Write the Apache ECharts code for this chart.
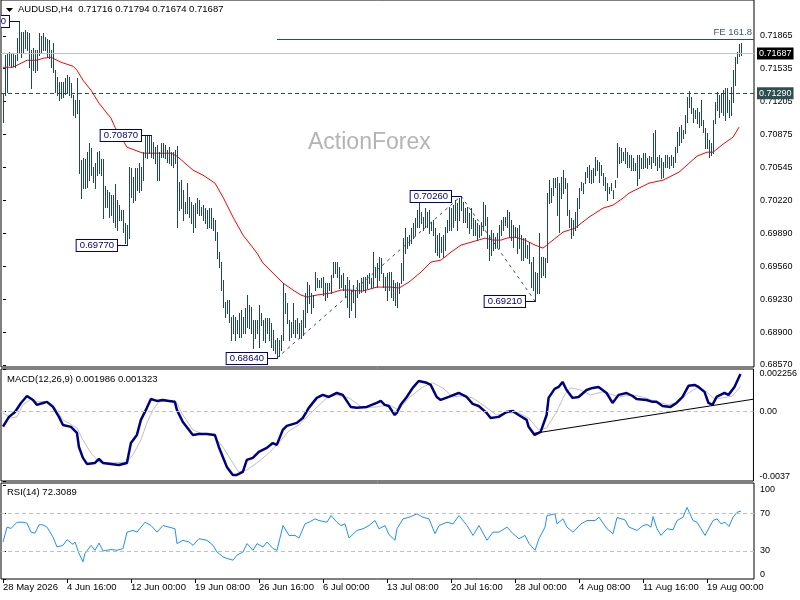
<!DOCTYPE html>
<html><head><meta charset="utf-8">
<script src="https://cdn.jsdelivr.net/npm/echarts@6/dist/echarts.min.js"></script>
<style>html,body{margin:0;padding:0;background:#fff}#c{width:800px;height:600px}</style>
</head><body><div id="c"></div>
<script>
const symbolName = 'AUDUSD,H4';
const lastOHLC = [0.71716, 0.71794, 0.71674, 0.71687];
const highs = [
0.7129,0.7167,0.7169,0.7170,0.7169,0.7169,0.7167,0.7184,0.7201,0.7190,
0.7190,0.7192,0.7190,0.7189,0.7172,0.7174,0.7172,0.7172,0.7189,0.7186,
0.7189,0.7185,0.7183,0.7182,0.7172,0.7179,0.7152,0.7145,0.7140,0.7140,
0.7140,0.7144,0.7147,0.7145,0.7139,0.7127,0.7122,0.7144,0.7122,0.7062,
0.7064,0.7063,0.7070,0.7079,0.7074,0.7055,0.7059,0.7070,0.7071,0.7063,
0.7063,0.7036,0.7032,0.7030,0.7027,0.7027,0.7038,0.7022,0.7017,0.7012,
0.7012,0.6999,0.6997,0.7055,0.7054,0.7045,0.7054,0.7054,0.7059,0.7055,
0.7070,0.7087,0.7087,0.7087,0.7087,0.7080,0.7075,0.7077,0.7070,0.7079,
0.7079,0.7077,0.7072,0.7075,0.7070,0.7070,0.7072,0.7076,0.7040,0.7042,
0.7032,0.7020,0.7039,0.7025,0.7020,0.7017,0.7019,0.7024,0.7022,0.7015,
0.7017,0.7014,0.7012,0.7014,0.7014,0.7004,0.7002,0.6990,0.6970,0.6960,
0.6942,0.6920,0.6922,0.6922,0.6905,0.6907,0.6905,0.6902,0.6909,0.6912,
0.6905,0.6914,0.6927,0.6917,0.6915,0.6902,0.6902,0.6902,0.6917,0.6909,
0.6902,0.6904,0.6904,0.6904,0.6899,0.6892,0.6882,0.6884,0.6882,0.6887,
0.6939,0.6929,0.6919,0.6902,0.6900,0.6919,0.6902,0.6904,0.6899,0.6902,
0.6912,0.6929,0.6940,0.6937,0.6929,0.6927,0.6950,0.6944,0.6942,0.6944,
0.6945,0.6939,0.6939,0.6939,0.6947,0.6960,0.6960,0.6960,0.6955,0.6947,
0.6949,0.6937,0.6945,0.6942,0.6932,0.6937,0.6932,0.6942,0.6939,0.6944,
0.6945,0.6945,0.6947,0.6949,0.6944,0.6970,0.6955,0.6959,0.6965,0.6964,
0.6949,0.6945,0.6949,0.6950,0.6950,0.6942,0.6939,0.6940,0.6939,0.6959,
0.6984,0.6994,0.6985,0.6987,0.6994,0.6999,0.7004,0.7012,0.7025,0.7010,
0.7005,0.7014,0.7010,0.7012,0.7000,0.7002,0.6994,0.6987,0.6989,0.6985,
0.6987,0.6995,0.7002,0.7015,0.7014,0.7017,0.7022,0.7019,0.7024,0.7026,
0.7020,0.7014,0.7015,0.7009,0.7014,0.7004,0.7002,0.6999,0.6997,0.7000,
0.7020,0.7017,0.7005,0.6987,0.6992,0.6989,0.6985,0.6989,0.6997,0.7002,
0.7005,0.7005,0.7012,0.7010,0.7002,0.6997,0.6995,0.6994,0.6997,0.6987,
0.6984,0.6984,0.6977,0.6980,0.6960,0.6965,0.6950,0.6949,0.6989,0.6965,
0.6965,0.6964,0.7029,0.7042,0.7034,0.7044,0.7044,0.7045,0.7039,0.7045,
0.7052,0.7044,0.7039,0.7012,0.7004,0.7002,0.7010,0.7024,0.7034,0.7040,
0.7039,0.7050,0.7055,0.7057,0.7052,0.7054,0.7065,0.7062,0.7060,0.7057,
0.7049,0.7045,0.7039,0.7035,0.7039,0.7032,0.7042,0.7079,0.7075,0.7074,
0.7070,0.7074,0.7070,0.7067,0.7067,0.7064,0.7059,0.7067,0.7067,0.7064,
0.7069,0.7069,0.7064,0.7066,0.7065,0.7089,0.7092,0.7065,0.7067,0.7064,
0.7060,0.7067,0.7067,0.7065,0.7067,0.7065,0.7075,0.7090,0.7095,0.7097,
0.7092,0.7107,0.7125,0.7131,0.7125,0.7114,0.7112,0.7114,0.7110,0.7122,
0.7102,0.7094,0.7089,0.7082,0.7079,0.7102,0.7120,0.7130,0.7127,0.7129,
0.7132,0.7134,0.7134,0.7122,0.7135,0.7152,0.7165,0.7170,0.7178,0.71794];
const lows = [
0.7100,0.7127,0.7130,0.7157,0.7155,0.7156,0.7155,0.7162,0.7170,0.7165,
0.7169,0.7174,0.7172,0.7155,0.7134,0.7152,0.7150,0.7152,0.7167,0.7170,
0.7172,0.7172,0.7165,0.7164,0.7155,0.7150,0.7130,0.7127,0.7122,0.7124,
0.7125,0.7128,0.7129,0.7127,0.7125,0.7107,0.7105,0.7109,0.7049,0.7024,
0.7034,0.7034,0.7035,0.7042,0.7047,0.7040,0.7034,0.7047,0.7049,0.7047,
0.7004,0.7015,0.7015,0.7005,0.7007,0.7000,0.6995,0.6992,0.7002,0.7002,
0.6990,0.6979,0.6977,0.6984,0.7025,0.7020,0.7022,0.7032,0.7030,0.7032,
0.7042,0.7065,0.7064,0.7069,0.7065,0.7064,0.7059,0.7042,0.7042,0.7065,
0.7065,0.7064,0.7060,0.7059,0.7057,0.7055,0.7059,0.6995,0.7012,0.7014,
0.7002,0.7009,0.7009,0.7005,0.6999,0.6990,0.6995,0.7009,0.7007,0.7007,
0.7002,0.6999,0.6994,0.6995,0.6994,0.6992,0.6982,0.6964,0.6955,0.6932,
0.6915,0.6905,0.6909,0.6900,0.6882,0.6889,0.6882,0.6889,0.6885,0.6885,
0.6889,0.6889,0.6895,0.6894,0.6889,0.6874,0.6884,0.6889,0.6875,0.6897,
0.6882,0.6880,0.6889,0.6882,0.6875,0.6872,0.6869,0.6864,0.6866,0.6872,
0.6882,0.6909,0.6899,0.6882,0.6885,0.6889,0.6885,0.6889,0.6884,0.6884,
0.6887,0.6895,0.6910,0.6919,0.6909,0.6915,0.6932,0.6935,0.6935,0.6935,
0.6927,0.6922,0.6925,0.6932,0.6929,0.6945,0.6949,0.6945,0.6934,0.6935,
0.6932,0.6925,0.6915,0.6905,0.6912,0.6920,0.6905,0.6925,0.6929,0.6930,
0.6932,0.6930,0.6934,0.6939,0.6934,0.6935,0.6945,0.6935,0.6942,0.6949,
0.6935,0.6932,0.6922,0.6932,0.6925,0.6922,0.6917,0.6915,0.6929,0.6939,
0.6942,0.6969,0.6974,0.6977,0.6979,0.6984,0.6987,0.6995,0.6995,0.6999,
0.6992,0.6995,0.6995,0.6989,0.6992,0.6987,0.6970,0.6967,0.6965,0.6970,
0.6965,0.6972,0.6990,0.6992,0.6992,0.6995,0.7002,0.6992,0.7002,0.7012,
0.7000,0.7000,0.6995,0.6989,0.6994,0.6987,0.6987,0.6982,0.6985,0.6987,
0.6992,0.6997,0.6974,0.6962,0.6967,0.6972,0.6974,0.6975,0.6974,0.6987,
0.6992,0.6997,0.6995,0.6985,0.6982,0.6975,0.6985,0.6969,0.6974,0.6962,
0.6962,0.6965,0.6964,0.6959,0.6935,0.6932,0.6921,0.6929,0.6929,0.6945,
0.6947,0.6945,0.6960,0.7019,0.7020,0.7027,0.7035,0.7007,0.6990,0.7024,
0.7029,0.7034,0.7007,0.6995,0.6984,0.6987,0.6992,0.6995,0.7014,0.7032,
0.7029,0.7039,0.7045,0.7040,0.7039,0.7040,0.7047,0.7052,0.7040,0.7047,
0.7037,0.7032,0.7022,0.7029,0.7032,0.7024,0.7035,0.7045,0.7059,0.7060,
0.7062,0.7059,0.7055,0.7055,0.7052,0.7052,0.7052,0.7037,0.7044,0.7054,
0.7054,0.7055,0.7054,0.7058,0.7054,0.7060,0.7057,0.7052,0.7055,0.7044,
0.7045,0.7055,0.7055,0.7054,0.7057,0.7055,0.7060,0.7070,0.7077,0.7080,
0.7084,0.7089,0.7100,0.7115,0.7109,0.7100,0.7104,0.7099,0.7095,0.7097,
0.7090,0.7074,0.7074,0.7065,0.7067,0.7069,0.7099,0.7112,0.7105,0.7110,
0.7107,0.7102,0.7110,0.7105,0.7107,0.7120,0.7137,0.7159,0.7166,0.71674];

const maBars = [0,5,9,12,17,20,24,25,29,32,35,37,40,44,48,54,56,62,70,77,84,87,95,100,106,110,115,120,127,130,135,140,145,149,152,157,164,169,174,180,187,194,198,203,209,214,219,224,229,236,241,245,249,252,256,261,266,270,275,280,286,293,300,305,310,313,323,330,338,347,352,355,360,365,368];
const maVals = [0.7155,0.7155,0.7159,0.7162,0.7162,0.7164,0.7165,0.7164,0.7160,0.7158,
0.7156,0.7152,0.7142,0.7132,0.7119,0.7104,0.7095,0.7075,0.7069,0.7069,
0.7069,0.7066,0.7052,0.7047,0.7039,0.7025,0.7005,0.6987,0.6969,0.6959,
0.6949,0.6939,0.6932,0.6927,0.6925,0.6927,0.6929,0.6932,0.6932,0.6931,
0.6935,0.6935,0.6934,0.6940,0.6950,0.6960,0.6962,0.6970,0.6977,0.6981,
0.6984,0.6982,0.6982,0.6984,0.6985,0.6982,0.6977,0.6974,0.6982,0.6990,
0.6994,0.7005,0.7014,0.7017,0.7024,0.7029,0.7039,0.7042,0.7050,0.7066,
0.7070,0.7070,0.7078,0.7085,0.7095];

const macdBars = [0,3,6,9,12,15,17,20,22,25,28,30,34,37,38,40,42,46,48,50,
54,58,62,64,67,69,72,74,77,80,83,86,87,90,93,95,98,102,106,108,
110,112,115,117,120,122,125,128,132,135,137,140,142,147,150,153,157,160,163,167,
170,174,177,182,187,189,191,193,196,197,199,202,205,208,212,214,217,219,223,228,
232,235,238,242,244,248,252,255,258,262,263,266,269,272,273,276,278,280,282,285,
288,292,295,298,302,305,308,312,315,317,322,325,327,330,334,337,340,343,346,348,
351,353,355,357,361,363,366,369];
const macdVals = [-0.00081,-0.00029,-0.00003,0.00045,0.00082,0.00061,0.00035,0.00045,0.00051,0.00024,
-0.00029,-0.00072,-0.00082,-0.00114,-0.00189,-0.00247,-0.00279,-0.00274,-0.00253,-0.00274,
-0.00279,-0.00285,-0.00274,-0.00168,-0.00125,-0.00045,0.00019,0.00066,0.00056,0.00061,
0.00056,0.00051,0.00008,-0.00056,-0.00098,-0.00125,-0.00120,-0.00120,-0.00125,-0.00189,
-0.00242,-0.00295,-0.00338,-0.00338,-0.00322,-0.00258,-0.00247,-0.00215,-0.00194,-0.00168,
-0.00178,-0.00098,-0.00077,-0.00061,-0.00035,0.00019,0.00072,0.00088,0.00077,0.00098,
0.00088,0.00024,0.00019,0.00024,0.00045,0.00056,0.00035,0.00029,-0.00019,-0.00008,
0.00035,0.00077,0.00125,0.00162,0.00152,0.00141,0.00077,0.00061,0.00077,0.00098,
0.00077,0.00040,0.00029,-0.00008,-0.00035,-0.00029,-0.00003,0.00003,-0.00019,-0.00045,
-0.00082,-0.00125,-0.00109,-0.00019,0.00072,0.00120,0.00130,0.00157,0.00114,0.00072,
0.00077,0.00114,0.00125,0.00130,0.00098,0.00045,0.00088,0.00098,0.00082,0.00066,
0.00061,0.00051,0.00051,0.00029,0.00024,0.00045,0.00077,0.00136,0.00141,0.00130,
0.00104,0.00045,0.00035,0.00077,0.00098,0.00088,0.00130,0.001986];

const signalBars = [0,4,7,10,14,17,22,25,30,37,40,44,48,55,62,65,69,72,75,78,
83,87,90,95,100,105,110,115,118,122,127,132,138,143,148,153,162,167,173,180,
187,193,198,203,210,215,220,225,230,235,240,247,253,258,263,268,272,277,281,284,
289,294,300,305,308,315,320,327,333,338,343,348,352,356,360,365,369];
const signalVals = [-0.00008,-0.00035,-0.00029,0.00035,0.00066,0.00051,0.00051,0.00035,-0.00045,-0.00088,
-0.00152,-0.00221,-0.00269,-0.00274,-0.00269,-0.00231,-0.00152,-0.00061,0.00008,0.00051,
0.00056,0.00045,-0.00019,-0.00098,-0.00120,-0.00125,-0.00189,-0.00274,-0.00322,-0.00311,
-0.00274,-0.00231,-0.00168,-0.00104,-0.00072,-0.00019,0.00072,0.00088,0.00072,0.00019,
0.00024,0.00035,0.00008,0.00072,0.00130,0.00152,0.00125,0.00077,0.00082,0.00072,
0.00035,-0.00019,-0.00008,-0.00008,-0.00035,-0.00098,-0.00088,-0.00003,0.00088,0.00125,
0.00114,0.00088,0.00104,0.00088,0.00077,0.00088,0.00077,0.00051,0.00035,0.00051,
0.00098,0.00130,0.00104,0.00066,0.00072,0.00082,0.001323];
const macdLast = [0.001986, 0.001323];
const macdTrend = [[266, -0.00116], [375.5, 0.00065]];

const rsiBars = [0,2,4,5,7,10,12,14,16,18,20,22,25,27,30,32,35,36,38,40,
41,44,46,48,50,54,57,60,62,65,67,71,74,77,80,83,86,87,90,93,
95,98,102,105,107,110,112,115,117,120,122,125,127,130,132,135,137,140,143,146,
148,151,153,156,158,162,164,167,169,171,173,177,180,183,186,188,191,193,196,197,
200,203,207,210,213,216,218,222,225,228,232,235,238,242,245,248,252,255,258,261,
263,266,268,271,272,276,277,280,282,285,289,292,296,298,302,305,307,311,313,317,
320,322,324,325,327,329,332,335,337,340,342,345,347,349,351,352,355,357,359,361,
363,365,367,369];
const rsiVals = [39.3,55.1,53.7,55.1,60.3,60.3,59.3,49.8,48.7,57.6,57.6,55.1,44.5,34.0,35.8,41.8,36.8,39.3,27.1,18.2,
27.1,35.8,30.5,38.2,29.8,31.3,30.5,32.3,49.8,51.6,49.8,60.3,56.8,49.8,56.8,55.1,53.4,37.6,41.1,39.3,
35.8,42.8,41.1,35.8,28.7,23.5,21.8,20.0,25.3,28.7,37.6,30.5,37.6,34.0,39.3,32.3,30.5,56.8,46.3,46.3,
43.5,58.6,60.3,63.9,62.1,60.3,67.4,60.3,56.8,58.6,43.5,51.6,53.4,56.8,62.1,53.4,56.8,47.1,41.1,53.4,
63.9,65.6,69.2,65.6,63.9,48.1,56.8,60.3,58.6,67.4,56.8,46.3,56.8,41.1,49.8,49.8,55.1,48.1,42.8,46.3,
37.6,30.5,42.8,55.1,67.4,69.2,58.6,63.9,55.1,49.8,58.6,62.1,62.1,65.6,53.4,48.1,65.3,62.8,55.1,51.6,
56.8,57.9,55.1,66.3,53.4,46.3,53.4,52.3,62.1,65.6,76.1,62.1,60.3,53.4,46.3,44.5,62.1,63.9,58.6,60.3,
55.8,65.6,70.8,72.3089];
const rsiLast = 72.3089;
const rsiLevels = [30, 70];

const timeTickBars = [0,32,64,96,128,160,192,224,256,288,320,352];
const timeTickLabels = ['28 May 2026','4 Jun 16:00','12 Jun 00:00','19 Jun 08:00','26 Jun 16:00','6 Jul 00:00','13 Jul 08:00','20 Jul 16:00','28 Jul 00:00','4 Aug 08:00','11 Aug 16:00','19 Aug 00:00'];
const priceTicks = [0.6857,0.6890,0.6923,0.6956,0.6989,0.7022,0.70545,0.70875,0.71205,0.71535,0.71865];
const levelPrice = 0.7129;
const swingBars = [8, 74, 62, 137, 229, 266];
const swingPrices = [0.7201, 0.7087, 0.6977, 0.6864, 0.7026, 0.6921];
const feBars = [137, 229, 266];
const fePrices = [0.6864, 0.7026, 0.6921];
const feLevel = 0.71831;
const feLabel = 'FE 161.8';
const watermark = 'ActionForex';

const FONT = 'Liberation Sans';
const BAR_COLOR = '#1b4863';
const XMIN = -1, XMAX = 375.5;

const chart = echarts.init(document.getElementById('c'));
const barData = highs.map((h, i) => [i, h, lows[i]]);
const pairs = (a, b) => a.map((x, k) => [x, b[k]]);

const gridBase = {left: 1, right: 46, show: true, borderColor: '#000', borderWidth: 1, backgroundColor: 'transparent'};
const hiddenX = (g) => ({type: 'value', gridIndex: g, min: XMIN, max: XMAX, show: false});
const lbl = {color: '#000', fontFamily: FONT, fontSize: 9};

const option = {
  animation: false,
  backgroundColor: '#fff',
  title: [
    {text: symbolName + '  ' + lastOHLC.map(v => v.toFixed(5)).join(' '), left: 18, top: 4, padding: 0,
     textStyle: {fontSize: 9.5, fontWeight: 'normal', color: '#000', fontFamily: FONT}},
    {text: 'MACD(12,26,9) ' + macdLast.map(v => v.toFixed(6)).join(' '), left: 7, top: 374, padding: 0,
     textStyle: {fontSize: 9.5, fontWeight: 'normal', color: '#000', fontFamily: FONT}},
    {text: 'RSI(14) ' + rsiLast.toFixed(4), left: 7, top: 487, padding: 0,
     textStyle: {fontSize: 9.5, fontWeight: 'normal', color: '#000', fontFamily: FONT}}
  ],
  graphic: [
    {type: 'polygon', shape: {points: [[6, 8], [13, 8], [9.5, 12]]}, style: {fill: '#000'}},
    {type: 'text', left: 308, top: 131, style: {text: watermark, fill: '#b4b4b4', fontSize: 23, fontFamily: FONT}}
  ],
  grid: [
    Object.assign({}, gridBase, {top: -1, height: 368}),
    Object.assign({}, gridBase, {top: 369, height: 112}),
    Object.assign({}, gridBase, {top: 483, height: 96})
  ],
  xAxis: [
    hiddenX(0), hiddenX(1),
    {type: 'value', gridIndex: 2, min: XMIN, max: XMAX,
     axisLine: {show: false}, splitLine: {show: false},
     axisTick: {show: true, customValues: timeTickBars, length: 4, lineStyle: {color: '#000'}},
     axisLabel: Object.assign({customValues: timeTickBars, align: 'left', margin: 3, fontSize: 9.5,
       formatter: v => timeTickLabels[timeTickBars.indexOf(Math.round(v))] || ''}, {color: '#000', fontFamily: FONT})}
  ],
  yAxis: [
    {type: 'value', gridIndex: 0, position: 'right', min: 0.6855, max: 0.72223, scale: true,
     axisLine: {show: false}, splitLine: {show: false},
     axisTick: {show: true, customValues: priceTicks, length: 3, lineStyle: {color: '#000'}},
     axisLabel: Object.assign({customValues: priceTicks, margin: 6, formatter: v => v.toFixed(5)}, lbl)},
    {type: 'value', gridIndex: 1, position: 'right', min: -0.0037, max: 0.002256, scale: true,
     axisLine: {show: false}, splitLine: {show: false},
     axisTick: {show: true, customValues: [-0.0037, 0, 0.002256], length: 3, lineStyle: {color: '#000'}},
     axisLabel: Object.assign({customValues: [-0.0037, 0, 0.002256], margin: 6,
       verticalAlignMaxLabel: 'top', verticalAlignMinLabel: 'bottom',
       formatter: v => v === 0 ? '0.00' : String(v)}, lbl)},
    {type: 'value', gridIndex: 2, position: 'right', min: 0, max: 102,
     axisLine: {show: false}, splitLine: {show: false},
     axisTick: {show: true, customValues: [0, 30, 70, 100], length: 3, lineStyle: {color: '#000'}},
     axisLabel: Object.assign({customValues: [0, 30, 70, 100], margin: 6,
       verticalAlignMaxLabel: 'top', verticalAlignMinLabel: 'bottom'}, lbl)}
  ],
  series: [
    {
      type: 'line', name: 'ma', xAxisIndex: 0, yAxisIndex: 0, data: pairs(maBars, maVals),
      showSymbol: false, symbol: 'none', lineStyle: {color: '#ff0000', width: 1}, z: 2, clip: false, silent: true,
      markLine: {
        silent: true, symbol: ['none', 'none'], animation: false, precision: 5,
        data: [
          {yAxis: lastOHLC[3], lineStyle: {color: '#c0c0c0', type: 'solid', width: 1},
           label: {show: true, position: 'end', distance: 3, formatter: p => Number(p.value).toFixed(5),
             color: '#fff', backgroundColor: '#000', padding: [2, 2, 1, 2], fontSize: 9, fontFamily: FONT}},
          {yAxis: levelPrice, lineStyle: {color: '#2f4f4f', type: [4, 3], width: 1},
           label: {show: true, position: 'end', distance: 3, formatter: p => Number(p.value).toFixed(5),
             color: '#fff', backgroundColor: '#2f4f4f', padding: [2, 2, 1, 2], fontSize: 9, fontFamily: FONT}}
        ]
      }
    },
    {
      type: 'line', name: 'fe', xAxisIndex: 0, yAxisIndex: 0, data: pairs(feBars, fePrices),
      showSymbol: false, symbol: 'none', lineStyle: {color: '#2f4f4f', width: 1, type: [3, 4]}, z: 4, silent: true,
      markLine: {
        silent: true, symbol: ['none', 'none'], animation: false, precision: 5,
        data: [[
          {coord: [feBars[0], feLevel]},
          {coord: [XMAX, feLevel]}
        ]],
        lineStyle: {color: '#2f4f4f', type: 'solid', width: 1},
        label: {show: true, position: 'insideEndTop', distance: 2, formatter: feLabel,
          color: '#3f5c74', fontSize: 9.5, fontFamily: FONT}
      }
    },
    {
      type: 'custom', name: 'bars', xAxisIndex: 0, yAxisIndex: 0, data: barData, z: 3, clip: true, silent: true,
      encode: {x: 0, y: [1, 2]},
      renderItem: (params, api) => {
        const i = api.value(0);
        const a = api.coord([i, api.value(1)]);
        const b = api.coord([i, api.value(2)]);
        const x = Math.round(a[0]) + 0.5;
        return {type: 'line', shape: {x1: x, y1: Math.round(a[1]), x2: x, y2: Math.round(b[1]) + 1},
          style: {stroke: BAR_COLOR, lineWidth: 1}};
      }
    },
    {
      type: 'custom', name: 'swings', xAxisIndex: 0, yAxisIndex: 0, data: pairs(swingBars, swingPrices),
      z: 5, clip: true, silent: true, encode: {x: 0, y: 1},
      renderItem: (params, api) => {
        const pt = api.coord([api.value(0), api.value(1)]);
        const x = Math.round(pt[0]), y = Math.round(pt[1]) + 0.5;
        return {type: 'group', children: [
          {type: 'line', shape: {x1: x - 10, y1: y, x2: x + 0.5, y2: y}, style: {stroke: '#000080', lineWidth: 1}},
          {type: 'text', x: x - 10, y: y, style: {
            text: swingPrices[params.dataIndex].toFixed(5), fill: '#000080', fontSize: 9.5, fontFamily: FONT,
            align: 'right', verticalAlign: 'middle', backgroundColor: '#fff',
            borderColor: '#000080', borderWidth: 1, padding: [1, 3, 0, 3]}}
        ]};
      }
    },
    {
      type: 'line', name: 'macd', xAxisIndex: 1, yAxisIndex: 1, data: pairs(macdBars, macdVals),
      showSymbol: false, symbol: 'none', lineStyle: {color: '#000080', width: 2.5}, z: 4, silent: true,
      markLine: {silent: true, symbol: ['none', 'none'], animation: false, precision: 6,
        data: [{yAxis: 0}], lineStyle: {color: '#c0c0c0', type: [4, 3], width: 1}, label: {show: false}}
    },
    {
      type: 'line', name: 'signal', xAxisIndex: 1, yAxisIndex: 1, data: pairs(signalBars, signalVals),
      showSymbol: false, symbol: 'none', lineStyle: {color: '#c0c0c0', width: 1}, z: 3, silent: true
    },
    {
      type: 'line', name: 'trend', xAxisIndex: 1, yAxisIndex: 1, data: macdTrend,
      showSymbol: false, symbol: 'none', lineStyle: {color: '#000', width: 1}, z: 5, silent: true
    },
    {
      type: 'line', name: 'rsi', xAxisIndex: 2, yAxisIndex: 2, data: pairs(rsiBars, rsiVals),
      showSymbol: false, symbol: 'none', lineStyle: {color: '#1e90ff', width: 1}, z: 4, silent: true,
      markLine: {silent: true, symbol: ['none', 'none'], animation: false,
        data: rsiLevels.map(v => ({yAxis: v})), lineStyle: {color: '#c0c0c0', type: [4, 3], width: 1}, label: {show: false}}
    }
  ]
};
chart.setOption(option);
</script>
</body></html>
